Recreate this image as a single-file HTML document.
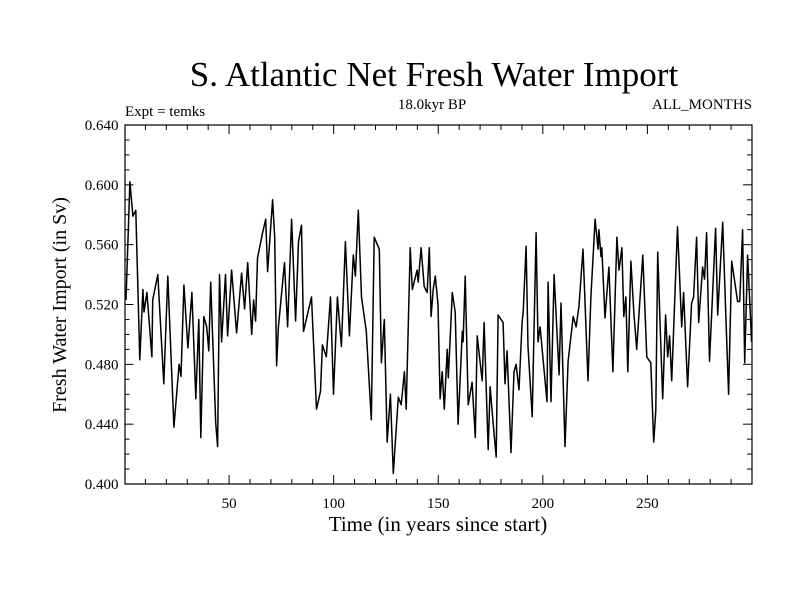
<!DOCTYPE html>
<html><head><meta charset="utf-8"><style>
body{margin:0;background:#fff}
svg{display:block}
text{font-family:"Liberation Serif",serif;fill:#000}
</style></head><body>
<svg id="chart" width="800" height="600" viewBox="0 0 800 600">
<rect width="800" height="600" fill="#fff"/>
<text x="434" y="86" font-size="35" text-anchor="middle">S. Atlantic Net Fresh Water Import</text>
<text x="125" y="116" font-size="15">Expt = temks</text>
<text x="432" y="109" font-size="15" text-anchor="middle">18.0kyr BP</text>
<text x="752" y="109" font-size="15" text-anchor="end">ALL_MONTHS</text>
<text x="438" y="531" font-size="21" text-anchor="middle">Time (in years since start)</text>
<text transform="translate(66,305) rotate(-90)" font-size="20" text-anchor="middle">Fresh Water Import (in Sv)</text>
<defs><clipPath id="clip"><rect x="125" y="125" width="627" height="359"/></clipPath></defs>
<g id="ticks"></g>
<path id="line" fill="none" stroke="#000" stroke-width="1.5" stroke-linejoin="round" clip-path="url(#clip)"/>
<rect x="125" y="125" width="627" height="359" fill="none" stroke="#000" stroke-width="1.2"/>
</svg>
<script>
const years=[0.7,2.6,4.0,5.4,7.3,8.8,9.3,10.7,13.1,13.5,15.9,18.8,20.7,23.6,26.1,27.0,28.4,30.3,32.2,34.1,35.5,36.5,37.9,39.3,40.3,41.2,43.6,44.5,45.4,46.4,48.3,49.3,51.2,53.6,56.0,57.4,58.9,60.8,61.7,62.7,63.6,66.0,67.5,68.4,70.8,71.8,72.7,73.6,76.5,78.0,79.9,81.8,83.2,84.6,85.6,89.4,91.8,93.7,94.6,96.5,98.5,99.9,101.8,103.7,105.6,107.5,109.4,110.4,111.8,113.3,115.6,118.0,119.4,121.8,122.8,124.2,125.6,127.1,128.5,130.9,132.3,133.8,134.7,136.6,137.6,139.9,140.4,141.8,143.3,144.7,145.7,146.6,147.6,148.6,149.9,150.9,151.9,152.9,154.3,154.8,156.7,158.1,159.5,161.5,161.9,162.9,164.3,166.2,167.7,168.6,171.0,171.9,173.9,174.8,176.2,177.7,178.6,181.0,181.9,182.9,184.8,186.2,187.2,188.6,190.1,190.6,192.0,192.9,194.9,196.8,197.7,198.7,202.0,202.5,203.9,205.4,207.8,208.7,210.6,212.1,214.5,215.9,217.3,219.2,221.6,223.0,225.0,226.4,226.8,227.8,228.2,229.7,231.6,233.5,235.4,236.4,237.8,238.7,239.7,240.6,242.1,243.5,244.9,247.8,249.7,251.6,253.0,254.0,254.9,256.3,257.3,258.7,259.7,260.6,261.6,264.4,266.4,267.3,269.2,271.1,272.1,273.5,274.5,276.4,277.3,278.3,279.7,282.6,283.6,286.0,287.4,288.8,290.3,293.1,294.1,295.5,296.5,297.9,299.8];
const values=[0.523,0.602,0.579,0.583,0.483,0.530,0.515,0.528,0.485,0.523,0.540,0.467,0.539,0.438,0.480,0.472,0.533,0.491,0.528,0.457,0.510,0.431,0.512,0.505,0.489,0.535,0.441,0.425,0.540,0.495,0.540,0.499,0.543,0.501,0.541,0.517,0.548,0.500,0.523,0.509,0.551,0.568,0.577,0.542,0.590,0.565,0.479,0.505,0.548,0.505,0.577,0.509,0.562,0.573,0.502,0.525,0.450,0.462,0.493,0.485,0.525,0.460,0.525,0.492,0.562,0.499,0.553,0.539,0.583,0.525,0.502,0.443,0.565,0.557,0.481,0.510,0.428,0.460,0.407,0.458,0.453,0.475,0.450,0.558,0.530,0.543,0.535,0.558,0.532,0.528,0.558,0.512,0.530,0.539,0.520,0.457,0.475,0.450,0.490,0.471,0.528,0.515,0.440,0.502,0.495,0.539,0.453,0.468,0.431,0.499,0.469,0.508,0.423,0.465,0.441,0.418,0.513,0.508,0.467,0.489,0.421,0.475,0.480,0.463,0.508,0.515,0.559,0.492,0.445,0.568,0.495,0.505,0.455,0.535,0.455,0.540,0.473,0.521,0.425,0.482,0.512,0.505,0.519,0.557,0.469,0.525,0.577,0.557,0.570,0.552,0.558,0.511,0.545,0.475,0.565,0.543,0.558,0.512,0.525,0.475,0.549,0.515,0.490,0.553,0.485,0.481,0.428,0.449,0.555,0.497,0.457,0.513,0.485,0.499,0.469,0.572,0.505,0.528,0.465,0.521,0.525,0.565,0.508,0.545,0.537,0.568,0.482,0.571,0.513,0.575,0.517,0.460,0.549,0.522,0.522,0.570,0.481,0.553,0.495];
const xTickLabels=[50,100,150,200,250];
const yTickLabels=["0.400","0.440","0.480","0.520","0.560","0.600","0.640"];
const X0=124.5,X1=752,Y0=484,Y1=125;
const xs=y=>X0+(y-0)*(X1-X0)/300;
const ys=v=>Y0-(v-0.4)*(Y0-Y1)/0.24;
const NS="http://www.w3.org/2000/svg";
const g=document.getElementById('ticks');
function ln(x1,y1,x2,y2,n){const l=document.createElementNS(NS,'line');l.setAttribute('x1',x1);l.setAttribute('y1',y1);l.setAttribute('x2',x2);l.setAttribute('y2',y2);l.setAttribute('stroke','#000');l.setAttribute('stroke-width','1');


g.appendChild(l);}
function tx(x,y,s,a,n){const t=document.createElementNS(NS,'text');t.setAttribute('x',x);t.setAttribute('y',y);t.setAttribute('font-size','15');t.setAttribute('text-anchor',a);t.textContent=s;


g.appendChild(t);}
for(let yr=10;yr<300;yr+=10){const x=xs(yr);const maj=yr%50===0;ln(x,Y0,x,Y0-(maj?9:5),'x-tick');ln(x,Y1,x,Y1+(maj?9:5),'x-tick-top');}
xTickLabels.forEach(v=>tx(xs(v),Y0+24,String(v),'middle','x-tick-label'));
for(let i=1;i<24;i++){const v=0.4+i*0.01;const y=ys(v);const maj=i%4===0;ln(X0,y,X0+(maj?9:5),y,'y-tick');ln(X1,y,X1-(maj?9:5),y,'y-tick-right');}
yTickLabels.forEach(s=>tx(X0-6,ys(parseFloat(s))+5,s,'end','y-tick-label'));
document.getElementById('line').setAttribute('d',years.map((yr,i)=>(i?'L':'M')+xs(yr).toFixed(1)+','+ys(values[i]).toFixed(1)).join(''));
</script>
</body></html>
